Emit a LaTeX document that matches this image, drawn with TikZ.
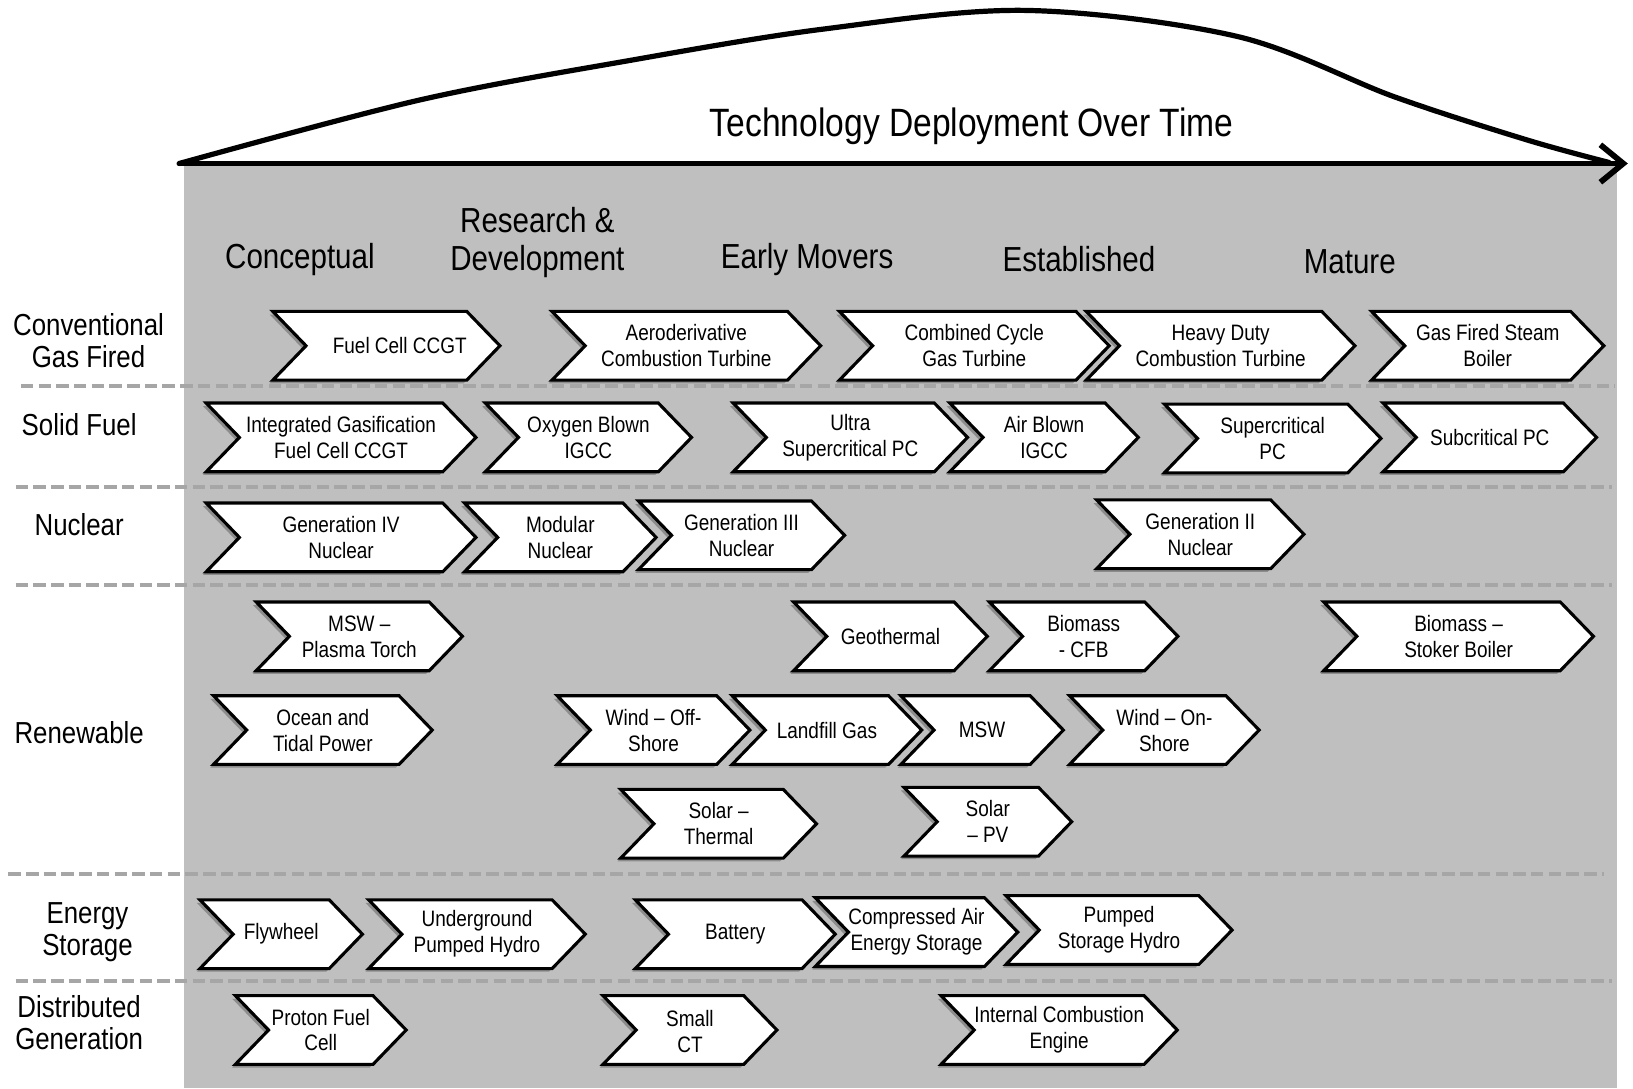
\documentclass[tikz,border=0pt]{standalone}
\usepackage{fontspec}
\setmainfont{Liberation Sans}[FakeStretch=0.85]
\usetikzlibrary{arrows.meta,shapes.symbols,shadows}
\definecolor{panel}{RGB}{191,191,191}
\definecolor{sepline}{RGB}{166,166,166}
\definecolor{shade}{RGB}{140,140,140}

\begin{document}
\begin{tikzpicture}[
  chev/.style={signal, signal from=west, signal to=east, signal pointer angle=92,
    draw=black, line width=0.85pt, fill=white, minimum height=0.66cm, inner sep=0pt,
    align=center, font=\fontsize{6.1}{7.1}\selectfont,
    drop shadow={shadow xshift=-0.03cm, shadow yshift=-0.03cm, fill=shade, opacity=1}},
  phase/.style={align=center, font=\fontsize{9.5}{10.2}\selectfont},
  rowlabel/.style={align=center, font=\fontsize{8.3}{8.6}\selectfont},
  sep/.style={draw=sepline, line width=0.04cm, dash pattern=on 0.12cm off 0.05cm}]
	\useasboundingbox (0,0) rectangle (15.68,-10.45);
	\fill[panel] (1.77,-1.58) rectangle (15.53,-10.45);
	% timeline
	\coordinate (tstart) at (1.72,-1.57);
	\coordinate (tend) at (15.63,-1.57);
	\draw[line width=0.05cm, line cap=round] plot[smooth, tension=0.55] coordinates {(1.72,-1.57) (4.03,-0.96) (6.05,-0.58) (7.9,-0.28) (9.85,-0.10) (11.88,-0.35) (13.39,-0.93) (14.65,-1.34) (15.45,-1.56)};
	\draw[line width=0.055cm, -{Straight Barb[length=0.22cm,width=0.36cm]}] (tstart) -- (tend);
	\node[font=\fontsize{10.8}{13}\selectfont] (title) at (9.33,-1.21) {Technology Deployment Over Time};
	% phases
	\node[phase] (concept) at (2.88,-2.49) {Conceptual};
	\node[phase] (rnd) at (5.16,-2.33) {Research \&\\Development};
	\node[phase] (early) at (7.75,-2.49) {Early Movers};
	\node[phase] (estab) at (10.36,-2.49) {Established};
	\node[phase] (mature) at (12.96,-2.51) {Mature};
	% rows
	\node[rowlabel] (gasrow) at (0.85,-3.27) {Conventional\\Gas Fired};
	\node[rowlabel] (solidrow) at (0.76,-4.08) {Solid Fuel};
	\node[rowlabel] (nucrow) at (0.76,-5.04) {Nuclear};
	\node[rowlabel] (renrow) at (0.76,-7.03) {Renewable};
	\node[rowlabel] (storrow) at (0.84,-8.95) {Energy\\Storage};
	\node[rowlabel] (distrow) at (0.76,-9.82) {Distributed\\Generation};
	\draw[sep] (0.20,-3.71) -- (15.50,-3.71);
	\draw[sep] (0.15,-4.68) -- (15.48,-4.68);
	\draw[sep] (0.15,-5.62) -- (15.48,-5.62);
	\draw[sep] (0.08,-8.39) -- (15.40,-8.39);
	\draw[sep] (0.15,-9.42) -- (15.48,-9.42);
	% conventional gas fired
	\node[chev, minimum width=2.16cm] (fuelcell) at (3.71,-3.32) {\hspace*{1.2em}Fuel Cell CCGT};
	\node[chev, minimum width=2.58cm] (aeroct) at (6.59,-3.32) {Aeroderivative\\Combustion Turbine};
	\node[chev, minimum width=2.59cm] (ccgt) at (9.355,-3.32) {Combined Cycle\\Gas Turbine};
	\node[chev, minimum width=2.58cm] (heavyct) at (11.72,-3.32) {Heavy Duty\\Combustion Turbine};
	\node[chev, minimum width=2.23cm] (steamboiler) at (14.285,-3.32) {Gas Fired Steam\\Boiler};
	% solid fuel
	\node[chev, minimum width=2.59cm] (igfc) at (3.275,-4.20) {Integrated Gasification\\Fuel Cell CCGT};
	\node[chev, minimum width=1.98cm] (oxyigcc) at (5.65,-4.20) {Oxygen Blown\\IGCC};
	\node[chev, minimum width=2.25cm] (uscpc) at (8.165,-4.20) {Ultra\\Supercritical PC};
	\node[chev, minimum width=1.81cm] (airigcc) at (10.025,-4.20) {Air Blown\\IGCC};
	\node[chev, minimum width=2.08cm] (scpc) at (12.22,-4.21) {Supercritical\\PC};
	\node[chev, minimum width=2.05cm] (subpc) at (14.305,-4.20) {Subcritical PC};
	% nuclear
	\node[chev, minimum width=2.59cm] (geniv) at (3.275,-5.16) {Generation IV\\Nuclear};
	\node[chev, minimum width=1.84cm] (modular) at (5.38,-5.16) {Modular\\Nuclear};
	\node[chev, minimum width=1.98cm] (geniii) at (7.12,-5.14) {Generation III\\Nuclear};
	\node[chev, minimum width=1.99cm] (genii) at (11.525,-5.13) {Generation II\\Nuclear};
	% renewable
	\node[chev, minimum width=1.98cm] (plasma) at (3.45,-6.11) {MSW --\\Plasma Torch};
	\node[chev, minimum width=1.86cm] (geotherm) at (8.55,-6.11) {Geothermal};
	\node[chev, minimum width=1.81cm] (biocfb) at (10.405,-6.11) {Biomass\\- CFB};
	\node[chev, minimum width=2.59cm] (stoker) at (14.005,-6.11) {Biomass --\\Stoker Boiler};
	\node[chev, minimum width=2.10cm] (tidal) at (3.10,-7.01) {Ocean and\\Tidal Power};
	\node[chev, minimum width=1.85cm] (windoff) at (6.275,-7.01) {Wind -- Off-\\Shore};
	\node[chev, minimum width=1.82cm] (landfill) at (7.94,-7.01) {Landfill Gas};
	\node[chev, minimum width=1.56cm] (msw) at (9.43,-7.01) {MSW};
	\node[chev, minimum width=1.82cm] (windon) at (11.18,-7.01) {Wind -- On-\\Shore};
	\node[chev, minimum width=1.88cm] (solarth) at (6.90,-7.91) {Solar --\\Thermal};
	\node[chev, minimum width=1.61cm] (solarpv) at (9.485,-7.89) {Solar\\-- PV};
	% energy storage
	\node[chev, minimum width=1.56cm] (flywheel) at (2.70,-8.97) {Flywheel};
	\node[chev, minimum width=2.08cm] (ugphydro) at (4.58,-8.97) {Underground\\Pumped Hydro};
	\node[chev, minimum width=1.92cm] (battery) at (7.06,-8.97) {Battery};
	\node[chev, minimum width=1.94cm] (caes) at (8.80,-8.95) {Compressed Air\\Energy Storage};
	\node[chev, minimum width=2.17cm] (psh) at (10.745,-8.93) {Pumped\\Storage Hydro};
	% distributed generation
	\node[chev, minimum width=1.64cm] (protonfc) at (3.08,-9.89) {Proton Fuel\\Cell};
	\node[chev, minimum width=1.67cm] (smallct) at (6.625,-9.89) {\\[-0.5ex]Small\\CT};
	\node[chev, minimum width=2.16cm] (icengine) at (10.17,-9.89) {Internal Combustion\\Engine};
\end{tikzpicture}
\end{document}
